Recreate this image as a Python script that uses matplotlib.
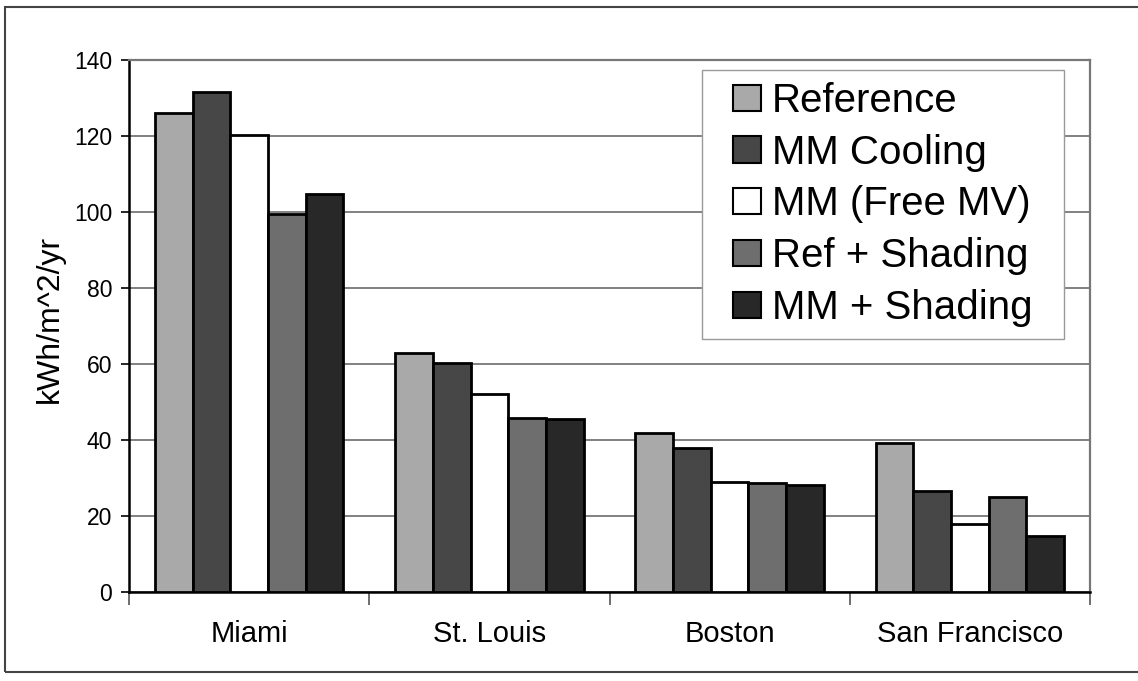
import matplotlib
matplotlib.use('Agg')
import matplotlib.pyplot as plt
from matplotlib.patches import Rectangle
import numpy as np

plt.rcParams['font.family'] = ['Liberation Sans', 'DejaVu Sans']

cities = ['Miami', 'St. Louis', 'Boston', 'San Francisco']
series = ['Reference', 'MM Cooling', 'MM (Free MV)', 'Ref + Shading', 'MM + Shading']
reference = [126.0, 62.8, 41.8, 39.3]
mm_cooling = [131.7, 60.2, 38.0, 26.5]
mm_free_mv = [120.2, 52.0, 29.0, 18.0]
ref_shading = [99.4, 45.7, 28.6, 25.1]
mm_shading = [104.7, 45.4, 28.2, 14.8]
yticks = [0, 20, 40, 60, 80, 100, 120, 140]

values = [reference, mm_cooling, mm_free_mv, ref_shading, mm_shading]
colors = ['#a9a9a9', '#474747', '#ffffff', '#6e6e6e', '#282828']

W, H = 1138, 681
fig = plt.figure(figsize=(W / 100, H / 100), dpi=100)
ax = fig.add_axes([129 / W, 1 - 592 / H, (1090 - 129) / W, (592 - 60) / H])

x = np.arange(len(cities))
width = 0.157
for i, (vals, col, name) in enumerate(zip(values, colors, series)):
    ax.bar(x + (i - 2) * width, vals, width, color=col, edgecolor='black',
           linewidth=2, label=name, zorder=3)

ax.set_xlim(-0.5, len(cities) - 0.5)
ax.set_ylim(0, 140)
ax.set_yticks(yticks)
ax.tick_params(axis='y', labelsize=16.5, length=6, width=1.2, pad=6, direction='out')
ax.set_xticks(x)
ax.set_xticklabels(cities, fontsize=21)
ax.tick_params(axis='x', length=0, pad=20)
ax.set_xticks(np.arange(-0.5, len(cities)), minor=True)
ax.tick_params(axis='x', which='minor', length=9, width=1.2, color='#555555')

ax.grid(axis='y', color='#777777', linewidth=1.3, zorder=0)
ax.set_axisbelow(True)
for s in ['left', 'bottom']:
    ax.spines[s].set_linewidth(1.8)
    ax.spines[s].set_color('black')
for s in ['top', 'right']:
    ax.spines[s].set_linewidth(1.6)
    ax.spines[s].set_color('#777777')

ax.set_ylabel('kWh/m^2/yr', fontsize=23)
ax.yaxis.set_label_coords(65 / W, 1 - 319 / H, transform=fig.transFigure)

leg = ax.legend(loc='upper left', bbox_to_anchor=(733 / W, 1 - 82 / H),
                bbox_transform=fig.transFigure, borderaxespad=0,
                fontsize=29, frameon=False,
                handlelength=0.7, handleheight=0.62, handletextpad=0.27,
                labelspacing=0.34, borderpad=0.0)
leg.set_zorder(6)
for h in leg.legend_handles:
    h.set_linewidth(1.5)

# legend box: wider side margins than matplotlib's single borderpad allows
fig.canvas.draw()
bb = leg.get_window_extent().transformed(fig.transFigure.inverted())
padx, pady = 31 / W, 12 / H
ax.add_patch(Rectangle((bb.x0 - padx, bb.y0 - pady), bb.width + 2 * padx,
                       bb.height + 2 * pady, transform=fig.transFigure,
                       facecolor='white', edgecolor='#999999', linewidth=1.0,
                       zorder=5, clip_on=False))

# outer chart frame
fig.add_artist(Rectangle((5 / W, 1 - 672 / H), 1.2, (672 - 7) / H,
                         transform=fig.transFigure, fill=False,
                         edgecolor='#444444', linewidth=1.5))

fig.savefig('out.png', dpi=100)
